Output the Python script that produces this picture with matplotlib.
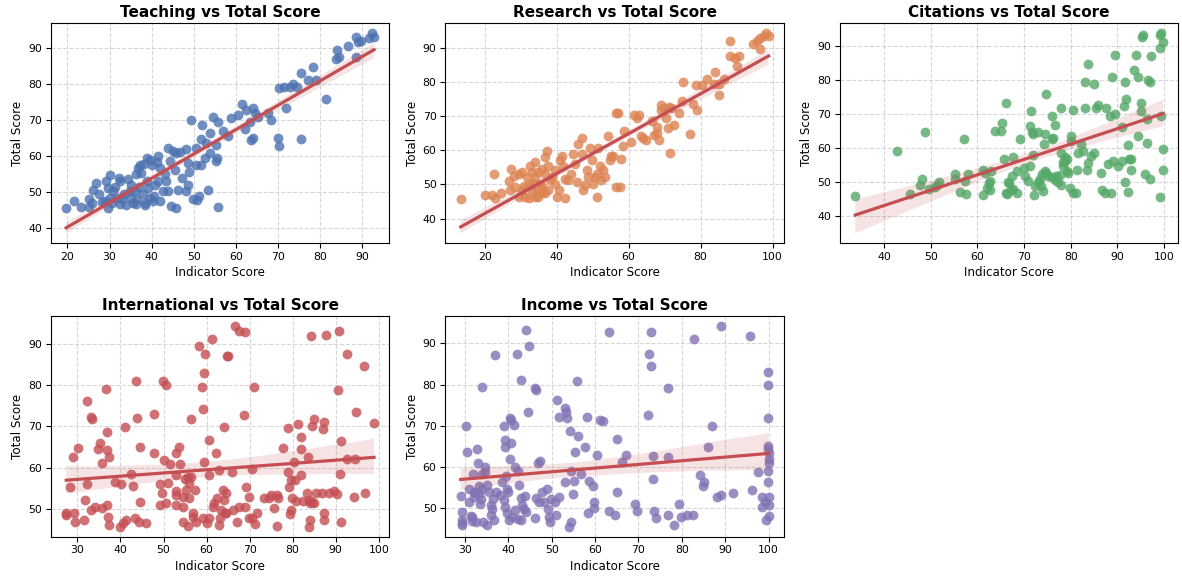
import matplotlib
matplotlib.use("Agg")
import matplotlib.pyplot as plt
import seaborn as sns

# Teaching
teach_x = [19.7, 21.6, 23.2, 25.0, 25.2, 25.8, 26.0, 26.8, 28.1, 28.9, 29.7, 30.1, 29.2, 29.7, 30.9,
           31.4, 32.3, 32.5, 32.6, 32.9, 31.7, 30.5, 34.4, 34.8, 35.2, 35.6, 36.0, 36.3, 36.4, 36.8,
           37.2, 37.6, 38.0, 38.2, 38.4, 38.8, 38.8, 39.2, 39.6, 39.6, 40.0, 40.4, 40.8, 41.2, 41.5,
           41.5, 41.9, 42.7, 43.1, 43.5, 43.9, 43.9, 44.3, 44.7, 45.1, 45.5, 45.7, 45.7, 46.3, 46.7,
           47.3, 48.1, 48.3, 48.7, 48.7, 49.0, 49.4, 49.8, 50.6, 50.6, 50.9, 51.2, 51.8, 51.8, 52.0,
           52.6, 52.9, 53.5, 53.8, 53.8, 54.6, 55.2, 55.4, 55.6, 55.8, 55.8, 56.9, 58.1,
           59.0, 60.6, 61.6, 62.5, 64.1, 64.5, 65.3, 67.7, 68.4, 63.5, 62.1, 63.7, 64.1, 70.0, 70.4,
           70.4, 71.6, 72.8, 73.6, 74.5, 72.0, 75.5, 77.1, 78.3, 79.1, 75.5, 81.5, 83.8, 84.2, 84.6,
           86.6, 88.6, 89.0, 89.8, 88.6, 91.6, 92.3, 92.9,
           33.5, 34.0, 35.0, 36.5, 37.0, 38.5, 40.5, 42.0, 27.5, 30.0]
teach_y = [45.5, 47.6, 46.0, 48.0, 45.9, 47.0, 50.6, 52.6, 47.2, 47.5, 45.7, 54.7, 53.0, 51.2, 50.3,
           51.4, 53.9, 53.0, 46.8, 48.0, 48.4, 47.1, 53.7, 50.3, 48.4, 47.1, 50.3, 54.9, 46.6, 56.7,
           57.6, 55.3, 49.4, 57.8, 47.1, 53.0, 59.4, 51.2, 48.4, 59.0, 57.6, 47.5, 52.1, 58.3, 59.9,
           53.0, 56.7, 50.3, 54.9, 53.0, 62.2, 50.3, 58.5, 46.1, 61.3, 56.2, 45.7, 60.8, 50.7, 61.0,
           53.9, 61.9, 50.3, 52.1, 58.1, 55.6, 70.0, 48.0, 62.2, 57.6, 47.7, 48.9, 64.7, 57.6, 68.6,
           59.4, 63.6, 50.7, 66.3, 60.8, 70.9, 58.5, 63.1, 59.4, 69.5, 46.0, 66.8, 65.4,
           70.5, 71.4, 74.3, 72.8, 73.2, 71.8, 70.9, 71.8, 70.0, 69.5, 67.5, 64.5, 65.0, 65.1, 62.8,
           78.7, 79.2, 79.2, 79.8, 79.2, 73.2, 82.9, 81.0, 84.5, 81.0, 64.8, 75.9, 86.8, 89.3, 87.3,
           90.5, 92.9, 91.4, 91.7, 87.3, 92.6, 94.0, 92.9,
           49.5, 46.5, 52.0, 48.0, 51.5, 46.5, 49.0, 47.5, 49.5, 48.5]

# Research
res_x = [13.3, 20.0, 22.0, 22.8, 24.5, 22.5, 27.1, 28.5, 26.6, 28.0, 29.4, 30.3, 29.4, 31.2, 32.2,
         32.6, 34.0, 33.1, 34.0, 34.9, 35.9, 36.8, 37.2, 37.7, 36.8, 35.9, 34.0, 34.9, 35.9, 36.8,
         37.7, 38.2, 38.6, 39.5, 40.0, 40.5, 42.3, 39.5, 40.9, 41.4, 41.8, 42.3, 43.2, 44.1, 44.6,
         45.1, 45.5, 46.0, 46.9, 46.9, 47.4, 47.8, 48.3, 48.8, 49.2, 49.7, 50.1, 50.6, 51.1, 51.5,
         51.3, 52.0, 52.4, 52.9, 53.4, 54.3, 54.7, 55.2, 55.7, 56.6, 56.6,
         30.3, 32.2, 33.1, 34.5, 35.4, 31.7, 27.4, 31.0, 33.5, 36.0,
         57.0, 57.5, 57.9, 58.3, 58.6, 60.6, 61.6, 62.3, 62.9, 63.4, 63.9, 64.8, 66.6, 67.1, 68.0,
         68.0, 68.5, 68.9, 69.1, 69.9, 70.3, 70.8, 71.2, 71.7, 72.6, 74.0, 74.9, 71.4, 77.1, 75.2,
         78.0, 78.6, 79.1, 80.5, 81.8, 83.7, 84.1, 85.1, 85.1, 86.5, 88.1, 88.3, 89.7, 90.6, 90.2,
         94.7, 95.7, 96.6, 97.5, 98.2, 98.9, 96.6]
res_y = [45.6, 46.9, 46.9, 45.9, 47.4, 53.1, 48.3, 49.3, 50.9, 52.6, 53.1, 53.6, 46.4, 46.4, 45.9,
         55.5, 56.5, 53.6, 52.2, 53.6, 54.6, 57.9, 59.8, 55.5, 53.1, 49.3, 46.4, 46.4, 47.4, 47.4,
         48.3, 51.2, 52.2, 54.1, 46.4, 48.3, 45.9, 50.2, 57.0, 58.4, 55.5, 51.7, 51.2, 53.1, 58.9,
         56.0, 50.7, 61.7, 63.7, 58.9, 48.3, 49.8, 54.1, 52.2, 60.8, 57.0, 50.2, 52.2, 53.1, 60.8,
         46.4, 55.5, 51.2, 54.1, 52.2, 64.1, 57.0, 58.4, 58.4, 70.8, 49.3,
         48.3, 50.2, 48.3, 47.9, 50.2, 52.2, 54.6, 49.5, 50.5, 48.0,
         70.8, 49.3, 57.4, 61.3, 65.6, 62.5, 70.2, 69.4, 70.3, 64.1, 63.7, 62.9, 68.6, 64.6, 66.7,
         65.1, 62.9, 73.2, 71.8, 72.5, 69.4, 66.5, 72.8, 72.3, 67.5, 70.8, 74.4, 59.3, 64.8, 79.9,
         73.4, 79.2, 71.8, 79.0, 80.9, 79.5, 83.0, 76.1, 79.5, 80.9, 87.6, 91.9, 87.1, 87.6, 84.7,
         91.0, 91.9, 92.9, 93.4, 94.3, 93.5, 89.5]

# Citations
cit_x = [33.8, 42.7, 45.5, 47.7, 48.2, 48.7, 49.7, 50.8, 51.3, 51.8, 55.2, 55.2, 56.3, 57.1, 57.3,
         57.6, 57.9, 61.1, 61.6, 62.4, 62.6, 62.9, 61.1, 62.8, 62.0, 63.8, 65.1, 65.2, 66.1, 65.8,
         66.7, 66.3, 67.6, 66.6, 66.2, 67.3, 67.6, 68.4, 68.4, 69.1, 70.0, 70.1, 70.9, 71.2, 71.4,
         71.2, 71.6, 71.9, 71.9, 72.1, 73.0, 73.6, 74.1, 74.4, 74.3, 74.8, 74.4, 74.8, 75.1, 75.9,
         75.9, 76.2, 76.7, 76.9, 77.6, 77.9, 78.0, 78.4, 78.7, 79.1, 79.4, 79.8, 80.0, 80.1, 80.5,
         80.5, 81.2, 81.4, 81.6, 82.3, 82.6, 83.1, 83.6, 83.4, 83.1, 83.7, 84.4, 85.1, 85.1, 85.5,
         85.9, 86.6, 86.7, 87.3, 87.6, 88.0, 88.4, 88.7, 88.9, 89.1, 89.4, 89.6, 90.1, 90.9, 91.0,
         91.4, 91.6, 91.9, 92.3, 92.3, 92.6, 93.0, 92.9, 93.6, 94.1, 94.4, 94.4, 95.0, 95.0, 95.3,
         95.5, 95.9, 96.4, 96.4, 96.6, 96.9, 97.3, 97.1, 99.1, 99.4, 99.8, 99.1, 99.3, 99.8, 99.8,
         99.1, 91.6, 67.5, 72.4, 73.0, 73.4, 73.8, 75.9, 76.6, 77.3, 78.0, 78.4, 78.7, 79.1]
cit_y = [46.0, 59.2, 46.6, 49.3, 51.0, 64.8, 48.1, 48.5, 49.1, 50.1, 52.5, 50.8, 47.0, 62.6, 50.3,
         46.6, 52.3, 53.7, 52.7, 49.8, 47.8, 53.2, 46.3, 50.3, 48.3, 65.1, 65.1, 67.4, 73.3, 56.9,
         49.8, 46.6, 57.5, 50.0, 46.8, 47.6, 48.0, 53.2, 46.8, 62.8, 54.1, 51.8, 50.3, 54.7, 71.0,
         66.6, 64.6, 64.1, 57.9, 46.3, 64.6, 49.0, 47.3, 64.1, 61.1, 76.0, 53.2, 52.7, 51.8, 69.5,
         62.6, 63.1, 66.8, 51.8, 52.0, 71.7, 58.7, 54.7, 56.2, 53.2, 52.7, 48.3, 62.1, 63.6, 71.3,
         46.8, 46.8, 53.7, 58.7, 61.1, 59.2, 71.9, 84.6, 53.7, 79.4, 55.7, 57.7, 78.9, 58.7, 71.7,
         72.7, 52.7, 47.6, 46.8, 71.7, 55.2, 69.5, 46.8, 80.9, 56.2, 87.5, 70.0, 54.7, 56.2, 66.1,
         72.3, 79.4, 74.3, 60.8, 47.0, 56.7, 56.7, 53.7, 82.9, 87.5, 80.9, 63.6, 73.3, 71.0, 92.8,
         93.3, 52.5, 68.6, 61.6, 79.9, 79.4, 87.1, 50.8, 93.3, 93.8, 91.3, 89.5, 69.5, 59.7, 53.7,
         45.6, 50.0, 51.8, 49.0, 50.0, 51.0, 52.5, 51.5, 50.6, 50.0, 49.2, 55.8, 57.5, 56.7]

# International
int_x = [27.4, 27.4, 29.1, 29.5, 28.9, 30.2, 28.2, 31.8, 31.6, 32.3, 32.2, 33.1, 33.5, 33.1, 34.1,
         35.6, 36.9, 37.2, 37.4, 34.8, 35.2, 35.8, 36.9, 37.4, 36.9, 36.6, 38.7, 40.2, 39.8, 40.6,
         41.2, 41.1, 42.5, 42.8, 43.3, 43.8, 43.7, 44.5, 44.5, 44.3, 46.0, 47.8, 47.7, 49.1, 49.7,
         49.1, 49.8, 50.5, 50.0, 50.6, 51.0, 51.4, 52.8, 52.8, 52.9, 52.8, 52.9, 53.7, 53.8, 54.5,
         54.6, 54.5, 55.1, 55.2, 55.6, 56.0, 56.0, 56.4, 56.4, 56.8, 56.9, 55.6, 57.4, 57.5, 58.3,
         59.7, 61.2, 59.5, 58.9, 59.2, 60.6, 59.5, 60.5, 62.2, 63.0, 64.1, 64.8, 59.2, 60.6, 60.2,
         61.4, 61.8, 62.5, 63.7, 64.1, 64.5, 62.9, 63.1,
         66.7, 67.5, 68.9, 65.0, 71.0, 68.7, 66.0, 70.6, 64.4, 63.3, 69.2, 69.8, 66.1, 67.5, 68.9,
         64.3, 67.1, 69.8, 70.6, 71.2, 71.8, 73.3, 74.5, 74.9, 76.4, 76.7, 75.7, 76.4, 77.8, 78.8,
         79.0, 79.1, 79.5, 79.5, 79.3, 79.8, 80.3, 80.5, 80.7, 81.3, 81.9, 81.9, 81.9, 82.4, 83.4,
         83.6, 83.8, 84.0, 84.6, 85.0, 84.0, 83.8, 84.4, 85.0, 85.5, 86.9, 87.1, 87.3, 87.3, 87.3,
         88.4, 89.6, 90.4, 90.6, 90.8, 91.2, 91.1, 91.2, 92.5, 92.7, 94.5, 94.3, 94.8, 96.6, 96.8,
         98.9, 84.2, 87.7]
int_y = [49.1, 48.6, 49.2, 47.0, 62.7, 64.8, 55.4, 52.2, 47.5, 76.2, 56.0, 72.3, 71.8, 49.9, 50.6,
         50.2, 51.1, 48.2, 46.2, 64.6, 65.9, 61.1, 64.2, 62.7, 68.6, 79.1, 56.6, 56.2, 45.8, 46.6,
         47.4, 69.8, 58.4, 55.5, 47.8, 72.0, 81.0, 65.1, 51.8, 47.0, 46.7, 73.1, 63.5, 56.2, 53.9,
         51.0, 81.0, 80.0, 62.0, 51.5, 56.3, 60.8, 58.2, 53.4, 54.4, 51.0, 63.5, 65.1, 61.0, 53.0,
         50.6, 47.0, 57.4, 54.6, 57.8, 56.3, 52.6, 57.8, 71.9, 49.0, 48.0, 45.9, 54.6, 47.0, 89.4,
         87.4, 91.0, 83.0, 79.4, 74.2, 66.7, 61.4, 58.2, 63.5, 59.5, 69.9, 87.0, 47.8, 47.8, 46.6,
         50.6, 51.4, 52.6, 54.6, 52.2, 49.0, 46.2, 47.8,
         94.2, 93.1, 92.8, 87.1, 79.4, 72.8, 59.0, 59.8, 53.9, 49.8, 55.4, 53.0, 49.9, 50.6, 50.6,
         49.1, 47.0, 47.8, 47.8, 46.4, 49.0, 52.6, 52.8, 53.4, 53.4, 52.6, 50.2, 45.9, 64.8, 69.6,
         59.0, 55.4, 57.0, 49.8, 48.8, 52.8, 61.4, 57.0, 52.0, 70.7, 67.4, 64.6, 58.2, 52.0, 53.8,
         62.6, 52.2, 51.4, 51.8, 51.5, 47.4, 45.8, 70.2, 71.8, 53.9, 53.9, 69.4, 71.0, 49.1, 47.5,
         53.9, 54.4, 53.6, 78.7, 93.1, 66.4, 58.4, 47.0, 62.2, 87.4, 62.2, 53.0, 73.4, 84.6, 53.9,
         70.8, 91.8, 92.0]

# Income
inc_x = [29.0, 29.2, 29.2, 29.4, 29.4, 30.2, 30.5, 30.8, 31.3, 31.7, 31.7, 31.8, 32.1, 32.4, 32.6,
         32.8, 33.1, 33.2, 33.2, 33.6, 33.8, 34.0, 34.0, 34.1, 34.7, 34.7, 35.1, 35.5, 35.9, 35.9,
         36.3, 36.4, 36.7, 36.9, 37.2, 38.6, 39.0, 39.0, 39.2, 39.3, 39.3, 39.5, 39.7, 39.7, 39.9,
         40.1, 40.3, 40.3, 40.5, 40.7, 40.9, 41.2, 41.5, 41.6, 42.0, 42.2, 42.2, 42.4, 42.8, 43.0,
         43.0, 43.2, 43.5, 43.9, 44.1, 44.1, 44.5, 44.7, 46.1, 46.2, 46.4, 46.4, 46.8, 47.4, 47.0,
         47.8, 48.1, 48.9, 49.1, 49.3, 49.7, 49.9, 50.8, 51.2, 51.0, 51.7, 51.7, 53.0, 53.1, 53.3,
         53.5, 53.9, 54.3, 54.5, 54.5, 54.8, 55.2, 55.4, 55.8, 56.0, 56.8, 57.7, 58.2, 58.3, 58.7,
         59.4, 59.8, 59.8, 60.4, 61.1, 61.9, 63.2, 63.1, 65.0, 65.0, 64.6,
         66.1, 67.1, 69.2, 69.7, 72.2, 72.5, 72.8, 72.9, 73.3, 73.3, 73.5, 74.1, 76.8, 76.9, 76.8,
         78.3, 79.3, 79.9, 81.3, 82.6, 82.8, 84.1, 84.9, 85.1, 86.0, 87.0, 88.0, 89.0, 89.1, 91.8,
         95.7, 96.2, 97.6, 98.4, 98.5, 99.1, 99.5, 99.9, 99.9, 99.9, 99.9, 99.9, 100.0, 100.0, 100.0,
         99.9, 99.8, 100.0, 100.0, 100.0, 31.0, 32.0, 33.5, 35.0, 38.0]
inc_y = [52.8, 47.0, 45.8, 49.0, 46.2, 69.9, 63.5, 51.4, 48.0, 47.8, 46.7, 58.2, 53.8, 53.9, 46.6,
         64.2, 61.0, 55.4, 53.4, 52.2, 79.4, 54.6, 58.2, 46.6, 60.0, 58.6, 45.8, 53.9, 50.7, 48.2,
         49.8, 52.2, 47.0, 87.1, 53.9, 56.2, 69.8, 51.8, 66.6, 50.2, 64.8, 57.8, 54.6, 48.6, 53.8,
         47.0, 61.9, 71.8, 65.8, 71.4, 47.8, 70.2, 49.4, 59.8, 87.5, 59.0, 47.2, 55.5, 52.3, 81.0,
         47.0, 50.6, 49.8, 52.8, 93.2, 49.0, 73.4, 89.4, 47.4, 79.2, 78.6, 52.3, 61.0, 61.4, 51.4,
         53.8, 51.4, 54.6, 49.8, 47.8, 46.6, 52.2, 51.4, 76.2, 48.2, 72.2, 52.6, 56.2, 74.2, 73.4,
         71.8, 45.4, 68.6, 59.0, 46.6, 53.4, 56.6, 63.6, 80.8, 67.5, 58.2, 64.8, 72.2, 48.8, 56.6,
         55.4, 51.4, 49.9, 62.8, 71.4, 71.0, 49.1, 92.8, 53.9, 66.7, 48.2,
         61.1, 62.8, 51.0, 49.1, 72.6, 87.4, 92.8, 84.6, 62.7, 57.0, 49.1, 47.5, 48.2, 79.1, 62.3,
         45.9, 51.0, 47.8, 48.2, 48.2, 91.0, 58.0, 55.4, 56.2, 64.8, 69.9, 52.6, 53.1, 94.2, 53.5,
         91.8, 54.3, 58.6, 52.6, 50.2, 51.4, 47.0, 83.0, 80.0, 71.9, 65.1, 64.3, 63.4, 61.9, 61.0,
         59.0, 56.3, 52.6, 50.6, 48.0, 54.5, 52.5, 51.0, 55.5, 53.0]

titles = ["Teaching", "Research", "Citations", "International", "Income"]
xs = [teach_x, res_x, cit_x, int_x, inc_x]
ys = [teach_y, res_y, cit_y, int_y, inc_y]
colors = ["#4C72B0", "#DD8452", "#55A868", "#C44E52", "#8172B3"]

plt.rcParams['font.family'] = ['DejaVu Sans']

fig, axes = plt.subplots(2, 3, figsize=(11.82, 5.77), dpi=100)
axes = axes.flatten()

for i, name in enumerate(titles):
    ax = axes[i]
    sns.regplot(x=xs[i], y=ys[i], ax=ax, color=colors[i], seed=0,
                scatter_kws={"s": 50, "alpha": 0.8, "linewidths": 0},
                line_kws={"color": "#C44E52", "lw": 2.3})
    ax.set_title(name + " vs Total Score", fontsize=11, fontweight="bold", pad=4.5)
    ax.set_xlabel("Indicator Score", fontsize=8.6, labelpad=3)
    ax.set_ylabel("Total Score", fontsize=8.6, labelpad=3)
    ax.tick_params(labelsize=7.8, pad=2.8)
    ax.grid(True, linestyle="--", alpha=0.5)
    ax.set_axisbelow(True)

fig.delaxes(axes[5])

plt.subplots_adjust(left=0.043, right=0.997, top=0.960, bottom=0.070, wspace=0.165, hspace=0.33)
plt.savefig("out.png")
